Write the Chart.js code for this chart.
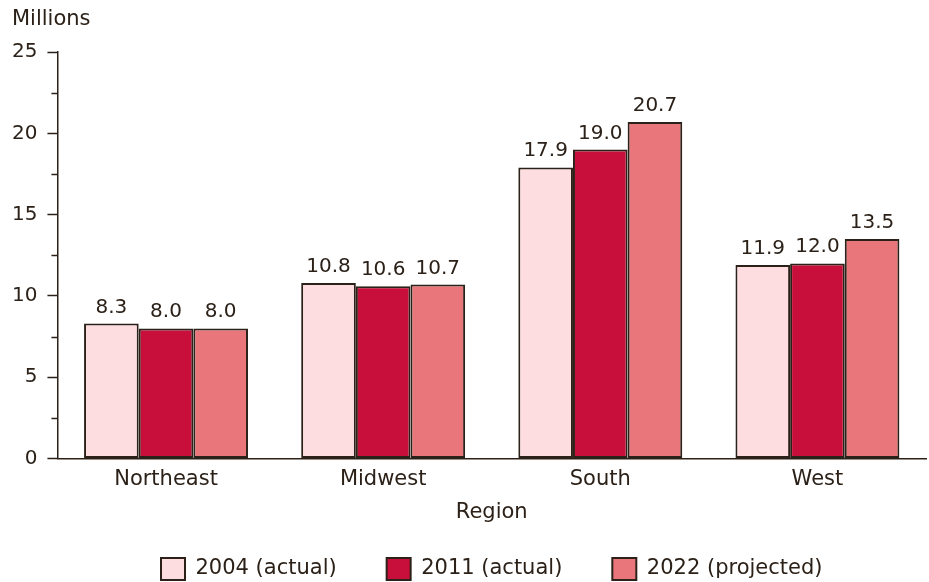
<!DOCTYPE html>
<html lang="en">
<head>
<meta charset="UTF-8">
<title>Enrollment by region</title>
<script src="https://cdn.jsdelivr.net/npm/chart.js"></script>
<style>
  html, body { margin: 0; padding: 0; background: #fff; }
</style>
</head>
<body>
<canvas id="chart" width="929" height="582"></canvas>
<script>
const regions = ['Northeast', 'Midwest', 'South', 'West'];
const seriesNames = ['2004 (actual)', '2011 (actual)', '2022 (projected)'];
const values2004 = [8.3, 10.8, 17.9, 11.9];
const values2011 = [8.0, 10.6, 19.0, 12.0];
const values2022 = [8.0, 10.7, 20.7, 13.5];
const yTicks = [0, 5, 10, 15, 20, 25];
const yMinorTicks = [2.5, 7.5, 12.5, 17.5, 22.5];

const ink = '#2b2118';
const fontFamily = '"DejaVu Sans", sans-serif';

// value above each bar
const valueLabels = {
  id: 'valueLabels',
  afterDatasetsDraw(chart) {
    const ctx = chart.ctx;
    ctx.save();
    ctx.font = '20px ' + fontFamily;
    ctx.fillStyle = ink;
    ctx.textAlign = 'center';
    ctx.textBaseline = 'alphabetic';
    chart.data.datasets.forEach((ds, i) => {
      chart.getDatasetMeta(i).data.forEach((bar, j) => {
        ctx.fillText(ds.data[j].toFixed(1), bar.x, bar.y - 11);
      });
    });
    ctx.restore();
  }
};

// short minor ticks on the y axis + "Millions" unit label
const axisExtras = {
  id: 'axisExtras',
  afterDraw(chart) {
    const y = chart.scales.y;
    const ctx = chart.ctx;
    ctx.save();
    ctx.strokeStyle = ink;
    ctx.lineWidth = 1.5;
    yMinorTicks.forEach(v => {
      const py = Math.round(y.getPixelForValue(v)) + 0.5;
      ctx.beginPath();
      ctx.moveTo(y.right - 6, py);
      ctx.lineTo(y.right, py);
      ctx.stroke();
    });
    ctx.font = '21px ' + fontFamily;
    ctx.fillStyle = ink;
    ctx.textAlign = 'left';
    ctx.textBaseline = 'middle';
    ctx.fillText('Millions', 12, 20);
    ctx.restore();
  }
};

Chart.defaults.font.family = fontFamily;
Chart.defaults.font.size = 21;
Chart.defaults.color = ink;

new Chart(document.getElementById('chart'), {
  type: 'bar',
  data: {
    labels: regions,
    datasets: [
      { label: seriesNames[0], data: values2004, backgroundColor: '#fddde0' },
      { label: seriesNames[1], data: values2011, backgroundColor: '#c80e3a' },
      { label: seriesNames[2], data: values2022, backgroundColor: '#e8767a' }
    ].map(ds => Object.assign(ds, {
      borderColor: ink,
      borderWidth: 2,
      borderSkipped: false,
      barPercentage: 1,
      categoryPercentage: 0.755
    }))
  },
  options: {
    responsive: false,
    animation: false,
    layout: { padding: { top: 52, left: 2, right: 3, bottom: -8 } },
    plugins: {
      legend: {
        position: 'bottom',
        fullSize: false,
        labels: { boxWidth: 24, boxHeight: 22, padding: 50, color: ink, font: { size: 21 } }
      },
      tooltip: { enabled: false }
    },
    scales: {
      x: {
        grid: { display: false },
        border: { display: true, color: ink, width: 1.5 },
        ticks: { padding: 0 },
        title: { display: true, text: 'Region', padding: { top: 8, bottom: -17 } }
      },
      y: {
        min: 0,
        max: 25,
        afterBuildTicks: scale => { scale.ticks = yTicks.map(v => ({ value: v })); },
        grid: { drawOnChartArea: false, drawTicks: true, tickLength: 10, tickColor: ink, tickWidth: 1.5 },
        border: { display: true, color: ink, width: 1.5 },
        ticks: { padding: 10, font: { size: 20 } }
      }
    }
  },
  plugins: [valueLabels, axisExtras]
});
</script>
</body>
</html>
